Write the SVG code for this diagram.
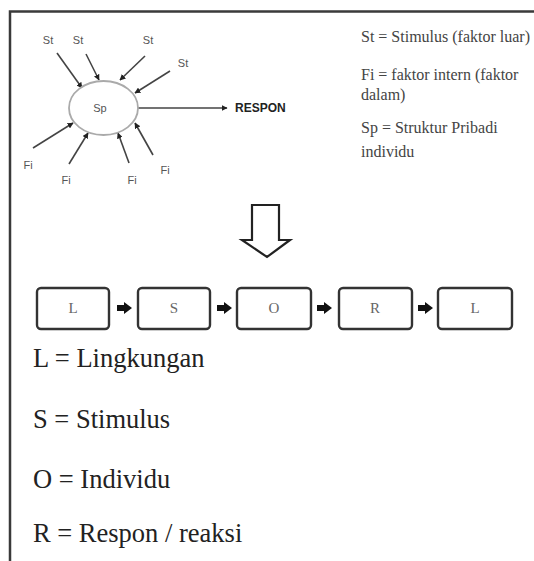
<svg xmlns="http://www.w3.org/2000/svg" width="534" height="561" viewBox="0 0 534 561">
<defs>
<style>
.frame{stroke:#3a3a3a;stroke-width:2.5;fill:none}
.conn{stroke:#444;stroke-width:1.6;fill:none}
.sans{font-family:"Liberation Sans",Arial,sans-serif;fill:#555;font-size:11px}
.serif{font-family:"Liberation Serif","Times New Roman",serif;fill:#333}
.leg{font-size:16px;fill:#444}
.big{font-size:26.5px;fill:#222}
.box{fill:#fff;stroke:#333;stroke-width:2.4}
.blbl{font-size:15px;fill:#666;text-anchor:middle}
.blk{fill:#111}
</style>
<marker id="ah" viewBox="0 0 10 10" refX="9" refY="5" markerWidth="6" markerHeight="6" orient="auto" markerUnits="userSpaceOnUse">
<path d="M0,0 L10,5 L0,10 z" fill="#222"/>
</marker>
<path id="blockarrow" d="M0,-3 L7,-3 L7,-6 L15,0 L7,6 L7,3 L0,3 z"/>
</defs>
<rect width="534" height="561" fill="#fff"/>
<path class="frame" d="M10,561 L10,11.5 L534,11.5"/>

<g id="connectors">
<line class="conn" x1="57" y1="53" x2="82" y2="88" marker-end="url(#ah)"/>
<line class="conn" x1="86" y1="54" x2="99" y2="80" marker-end="url(#ah)"/>
<line class="conn" x1="145" y1="56" x2="120" y2="80" marker-end="url(#ah)"/>
<line class="conn" x1="170" y1="71" x2="135" y2="93" marker-end="url(#ah)"/>
<line class="conn" x1="33" y1="148" x2="73" y2="123" marker-end="url(#ah)"/>
<line class="conn" x1="69" y1="164" x2="88" y2="133" marker-end="url(#ah)"/>
<line class="conn" x1="129" y1="163" x2="118" y2="133" marker-end="url(#ah)"/>
<line class="conn" x1="153" y1="155" x2="135" y2="123" marker-end="url(#ah)"/>
<line class="conn" x1="138" y1="108" x2="227" y2="108" marker-end="url(#ah)"/>
<use href="#blockarrow" class="blk" x="117" y="308"/>
<use href="#blockarrow" class="blk" x="217" y="308"/>
<use href="#blockarrow" class="blk" x="317" y="308"/>
<use href="#blockarrow" class="blk" x="418" y="308"/>
</g>

<g id="sp">
<ellipse cx="103.5" cy="108" rx="34.5" ry="27" fill="#fff" stroke="#aaa" stroke-width="1.8"/>
<text class="sans" x="100" y="112" font-size="12" text-anchor="middle">Sp</text>
</g>
<g id="st-labels">
<text class="sans" x="48" y="44" text-anchor="middle">St</text>
<text class="sans" x="78" y="44" text-anchor="middle">St</text>
<text class="sans" x="148" y="44" text-anchor="middle">St</text>
<text class="sans" x="183" y="67" text-anchor="middle">St</text>
</g>
<g id="fi-labels">
<text class="sans" x="28" y="169" text-anchor="middle">Fi</text>
<text class="sans" x="66" y="184" text-anchor="middle">Fi</text>
<text class="sans" x="132" y="184" text-anchor="middle">Fi</text>
<text class="sans" x="165" y="174" text-anchor="middle">Fi</text>
</g>
<g id="respon">
<text x="235" y="112" font-family="Liberation Sans,Arial,sans-serif" font-weight="bold" font-size="12" fill="#222">RESPON</text>
</g>

<g id="legend" class="serif leg">
<text x="361" y="42">St = Stimulus (faktor luar)</text>
<text x="361" y="80">Fi = faktor intern (faktor</text>
<text x="361" y="100">dalam)</text>
<text x="361" y="133">Sp = Struktur Pribadi</text>
<text x="361" y="157">individu</text>
</g>

<g id="down-arrow">
<path d="M252,205 L279,205 L279,240 L290,240 L267,257 L242,240 L252,240 Z" fill="#fff" stroke="#222" stroke-width="2.2" stroke-linejoin="miter"/>
</g>

<g id="box-L1"><rect class="box" x="37" y="288" width="72" height="41" rx="4"/><text class="serif blbl" x="73" y="313">L</text></g>
<g id="box-S"><rect class="box" x="138" y="288" width="72" height="41" rx="4"/><text class="serif blbl" x="174" y="313">S</text></g>
<g id="box-O"><rect class="box" x="237" y="288" width="74" height="41" rx="4"/><text class="serif blbl" x="274" y="313">O</text></g>
<g id="box-R"><rect class="box" x="339" y="288" width="73" height="41" rx="4"/><text class="serif blbl" x="375" y="313">R</text></g>
<g id="box-L2"><rect class="box" x="438" y="288" width="74" height="41" rx="4"/><text class="serif blbl" x="475" y="313">L</text></g>

<g id="definitions" class="serif big">
<text x="33" y="367">L = Lingkungan</text>
<text x="33" y="428">S = Stimulus</text>
<text x="33" y="488">O = Individu</text>
<text x="33" y="542">R = Respon / reaksi</text>
</g>
</svg>
